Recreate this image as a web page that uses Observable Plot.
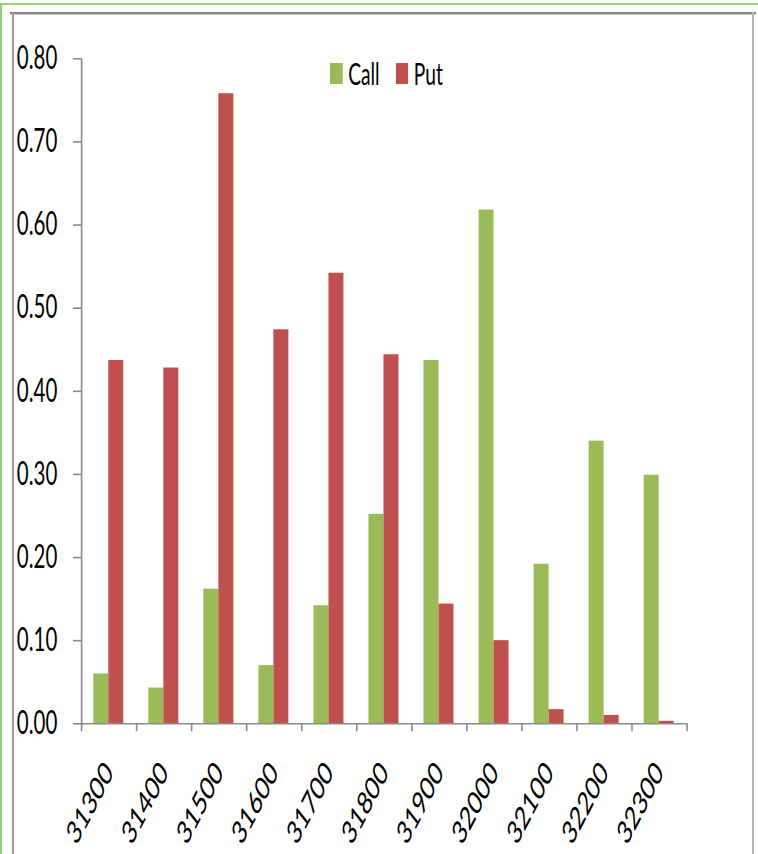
<!DOCTYPE html>
<html>
<head>
<meta charset="utf-8">
<script src="https://cdn.jsdelivr.net/npm/d3@7"></script>
<script src="https://cdn.jsdelivr.net/npm/@observablehq/plot@0.6"></script>
<style>
  html, body { margin: 0; padding: 0; background: #fff; overflow: hidden; }
  #wrap { position: relative; width: 758px; height: 854px; overflow: hidden; background: #fff; }
  #chart svg { position: absolute; left: 0; top: 0; }
  #chart line, #chart path { vector-effect: non-scaling-stroke; }
  #chart g[aria-label^="y-axis"] line, #chart g[aria-label^="y-axis"] path,
  #chart g[aria-label="y-axis tick"] path { stroke: #8a8a8a; stroke-width: 1.6; }
  #chart g[aria-label^="x-axis"] text { font-size: 32.5px; }
  .deco { position: absolute; pointer-events: none; }
  #legend { position: absolute; left: 330px; top: 55px; display: flex; align-items: center;
            font-family: Lato, "Open Sans", sans-serif; font-size: 30px; line-height: 36px;
            color: #000; white-space: nowrap; transform-origin: 0 0; }
  #legend .sw { display: inline-block; height: 21px; }
</style>
</head>
<body>
<div id="wrap">
  <div id="chart"></div>
  <div class="deco" style="left:0;top:3px;width:758px;height:2px;background:#8fd07c"></div>
  <div class="deco" style="left:0;top:3px;width:2px;height:851px;background:#8fd07c"></div>
  <div class="deco" style="left:10px;top:12px;width:746px;height:2px;background:#868686"></div>
  <div class="deco" style="left:10px;top:14px;width:746px;height:1px;background:#c8c8c8"></div>
  <div class="deco" style="left:12px;top:12px;width:2px;height:842px;background:#9a9a9a"></div>
  <div class="deco" style="left:752px;top:12px;width:2px;height:842px;background:#b5b5b5"></div>
  <div id="legend"></div>
</div>
<script>
// ---- data ----
const strikes = ["31300", "31400", "31500", "31600", "31700", "31800", "31900", "32000", "32100", "32200", "32300"];
const callValues = [0.060, 0.043, 0.162, 0.070, 0.142, 0.252, 0.437, 0.618, 0.192, 0.340, 0.299];
const putValues  = [0.437, 0.428, 0.758, 0.474, 0.542, 0.444, 0.144, 0.100, 0.017, 0.010, 0.003];
const yTicks = [0, 0.1, 0.2, 0.3, 0.4, 0.5, 0.6, 0.7, 0.8];
const seriesNames = ["Call", "Put"];
const seriesColors = ["#9BBB59", "#C0504D"];

// ---- layout (the reference is horizontally compressed; draw wide and squeeze) ----
const K = 0.64;
const PW = 758, PH = 854;
const W = PW / K;
const px = v => v / K;
const mL = px(81), mR = px(71.3), mT = 58.3, mB = 130.7;
const bw = (W - mL - mR) / strikes.length;
const axisGray = "#8a8a8a";

const rows = strikes.map((s, i) => ({strike: s, call: callValues[i], put: putValues[i]}));

const svg = Plot.plot({
  width: W,
  height: PH,
  marginLeft: mL,
  marginRight: mR,
  marginTop: mT,
  marginBottom: mB,
  style: {fontFamily: "Lato, 'Open Sans', sans-serif", fontSize: "32px", color: "#000", background: "transparent", overflow: "visible"},
  x: {domain: strikes, padding: 0, label: null, tickSize: 0, tickRotate: -51, tickPadding: 43},
  y: {domain: [0, 0.8], ticks: yTicks, tickFormat: d => d.toFixed(2), label: null, tickSize: px(8), tickPadding: px(16)},
  marks: [
    Plot.barY(rows, {x: "strike", y: "call", fill: seriesColors[0], insetLeft: px(12), insetRight: bw - px(27)}),
    Plot.barY(rows, {x: "strike", y: "put", fill: seriesColors[1], insetLeft: px(27), insetRight: bw - px(42)}),
    Plot.ruleY([0], {stroke: axisGray, strokeWidth: 1.6}),
    Plot.ruleX(strikes, {dx: -bw / 2, y1: 0, y2: 0, insetBottom: -8, stroke: axisGray, strokeWidth: 1.6}),
    Plot.ruleX([strikes[strikes.length - 1]], {dx: bw / 2, y1: 0, y2: 0, insetBottom: -8, stroke: axisGray, strokeWidth: 1.6}),
    Plot.ruleX([strikes[0]], {dx: -bw / 2, y1: 0, y2: 0.8, stroke: axisGray, strokeWidth: 1.6})
  ]
});
svg.setAttribute("viewBox", `0 0 ${W} ${PH}`);
svg.setAttribute("width", PW);
svg.setAttribute("height", PH);
svg.setAttribute("preserveAspectRatio", "none");
svg.style.width = PW + "px";
svg.style.height = PH + "px";
svg.style.maxWidth = "none";
document.getElementById("chart").appendChild(svg);

// ---- legend ----
const legend = document.getElementById("legend");
legend.style.transform = `scaleX(${K})`;
seriesNames.forEach((name, i) => {
  const sw = document.createElement("span");
  sw.className = "sw";
  sw.style.width = px(12.7) + "px";
  sw.style.background = seriesColors[i];
  sw.style.marginRight = px(5.5) + "px";
  if (i > 0) sw.style.marginLeft = px(16) + "px";
  const t = document.createElement("span");
  t.textContent = name;
  legend.appendChild(sw);
  legend.appendChild(t);
});
</script>
</body>
</html>
